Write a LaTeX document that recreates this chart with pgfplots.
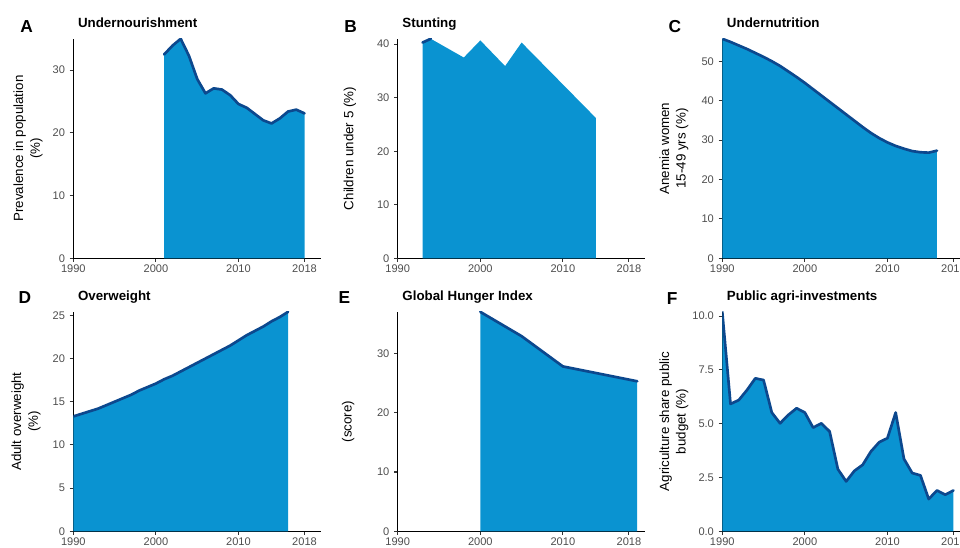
\documentclass[border=0pt]{standalone}
\usepackage{fontspec}
\setmainfont{Liberation Sans}
\usepackage{pgfplots}
\usepackage{pgfplotstable}
\pgfplotsset{compat=1.18}
\definecolor{fillc}{RGB}{10,147,209}
\definecolor{linec}{RGB}{12,72,142}
\definecolor{tickc}{RGB}{77,77,77}

\pgfplotstableread{
x y
2001 32.5
2002 33.9
2003 35.0
2004 32.3
2005 28.6
2006 26.3
2007 27.1
2008 26.9
2009 26.0
2010 24.6
2011 24.0
2012 23.0
2013 22.0
2014 21.5
2015 22.3
2016 23.4
2017 23.7
2018 23.1
}\tabA

\pgfplotstableread{
x y
1993 40.3
1994 41.0
1998 37.5
2000 40.7
2003 35.9
2005 40.3
2014 26.2
}\tabB

\pgfplotstableread{
x y
1993 40.3
1994 41.0
}\tabBline

\pgfplotstableread{
x y
1990 55.7
1991 54.9
1992 54.0
1993 53.1
1994 52.1
1995 51.1
1996 50.0
1997 48.8
1998 47.4
1999 46.0
2000 44.5
2001 42.9
2002 41.3
2003 39.7
2004 38.1
2005 36.5
2006 34.9
2007 33.3
2008 31.8
2009 30.5
2010 29.4
2011 28.5
2012 27.8
2013 27.2
2014 26.9
2015 26.8
2016 27.3
}\tabC

\pgfplotstableread{
x y
1990 13.3
1991 13.6
1992 13.9
1993 14.2
1994 14.6
1995 15.0
1996 15.4
1997 15.8
1998 16.3
1999 16.7
2000 17.1
2001 17.6
2002 18.0
2003 18.5
2004 19.0
2005 19.5
2006 20.0
2007 20.5
2008 21.0
2009 21.5
2010 22.1
2011 22.7
2012 23.2
2013 23.7
2014 24.3
2015 24.8
2016 25.4
}\tabD

\pgfplotstableread{
x y
2000 37.0
2005 32.9
2010 27.8
2019 25.3
}\tabE

\pgfplotstableread{
x y
1990 10.2
1991 5.92
1992 6.10
1993 6.57
1994 7.11
1995 7.03
1996 5.52
1997 5.02
1998 5.41
1999 5.72
2000 5.52
2001 4.82
2002 5.02
2003 4.64
2004 2.89
2005 2.32
2006 2.81
2007 3.09
2008 3.71
2009 4.14
2010 4.33
2011 5.52
2012 3.37
2013 2.71
2014 2.60
2015 1.50
2016 1.90
2017 1.70
2018 1.90
}\tabF

\pgfplotsset{
  panel/.style={
    scale only axis, width=185.8pt, height=164.6pt,
    anchor=south west,
    xmin=1990, xmax=2020, ymin=0,
    axis x line*=bottom, axis y line*=left,
    axis line style={-, line width=0.8pt, black},
    tick align=outside, major tick length=2.75pt,
    tick style={line width=0.8pt, color=black!80},
    minor tick num=0,
    xtick={1990,2000,2010,2018},
    /pgf/number format/1000 sep={},
    /pgf/number format/assume math mode=true,
    ticklabel style={font=\fontsize{8.3}{9.8}\selectfont, text=tickc},
    xticklabel style={inner sep=1.6pt},
    label style={font=\fontsize{10}{12.5}\selectfont, align=center},
    title style={font=\fontsize{10}{12}\selectfont\bfseries, at={(axis description cs:0,1)}, anchor=base west, yshift=2.2pt},
    ylabel style={at={(axis description cs:#1,0.5)}, anchor=center},
  },
  areafill/.style={fill=fillc, draw=none},
  arealine/.style={color=linec, line width=2pt, line join=round, line cap=round},
}

\begin{document}
\begin{tikzpicture}
% ---------- A
\begin{axis}[panel=-0.183, at={(55pt,217.3pt)}, ymax=35.0, ytick={0,10,20,30},
  title={Undernourishment}, ylabel={Prevalence in population\\(\%)}]
\addplot[areafill] table {\tabA} \closedcycle;
\addplot[arealine] table {\tabA};
\end{axis}
% ---------- B
\begin{axis}[panel=-0.193, at={(298.3pt,217.3pt)}, ymax=41.0, ytick={0,10,20,30,40},
  title={Stunting}, ylabel={Children under 5 (\%)}]
\addplot[areafill] table {\tabB} \closedcycle;
\addplot[arealine] table {\tabBline};
\end{axis}
% ---------- C
\begin{axis}[panel=-0.195, at={(541.7pt,217.3pt)}, ymax=55.7, ytick={0,10,20,30,40,50},
  title={Undernutrition}, ylabel={Anemia women\\15-49 yrs (\%)}]
\addplot[areafill] table {\tabC} \closedcycle;
\addplot[arealine] table {\tabC};
\end{axis}
% ---------- D
\begin{axis}[panel=-0.191, at={(55pt,12.5pt)}, ymax=25.4, ytick={0,5,10,15,20,25},
  title={Overweight}, ylabel={Adult overweight\\(\%)}]
\addplot[areafill] table {\tabD} \closedcycle;
\addplot[arealine] table {\tabD};
\end{axis}
% ---------- E
\begin{axis}[panel=-0.200, at={(298.3pt,12.5pt)}, ymax=37.0, ytick={0,10,20,30},
  title={Global Hunger Index}, ylabel={(score)}]
\addplot[areafill] table {\tabE} \closedcycle;
\addplot[arealine] table {\tabE};
\end{axis}
% ---------- F
\begin{axis}[panel=-0.195, at={(541.7pt,12.5pt)}, ymax=10.2, ytick={0,2.5,5,7.5,10},
  yticklabel style={/pgf/number format/.cd, fixed, fixed zerofill, precision=1},
  title={Public agri-investments}, ylabel={Agriculture share public\\budget (\%)}]
\addplot[areafill] table {\tabF} \closedcycle;
\addplot[arealine] table {\tabF};
\end{axis}
% panel letters
\begin{scope}[every node/.style={anchor=base west, font=\fontsize{13}{15}\selectfont\bfseries, inner sep=0pt}]
\node at (15pt,386.8pt) {A};
\node at (258pt,386.8pt) {B};
\node at (501.2pt,386.8pt) {C};
\node at (13.7pt,183pt) {D};
\node at (253.7pt,183pt) {E};
\node at (500pt,182.3pt) {F};
\end{scope}
\pgfresetboundingbox
\path[use as bounding box] (0,0) rectangle (720pt,411pt);
\end{tikzpicture}
\end{document}
